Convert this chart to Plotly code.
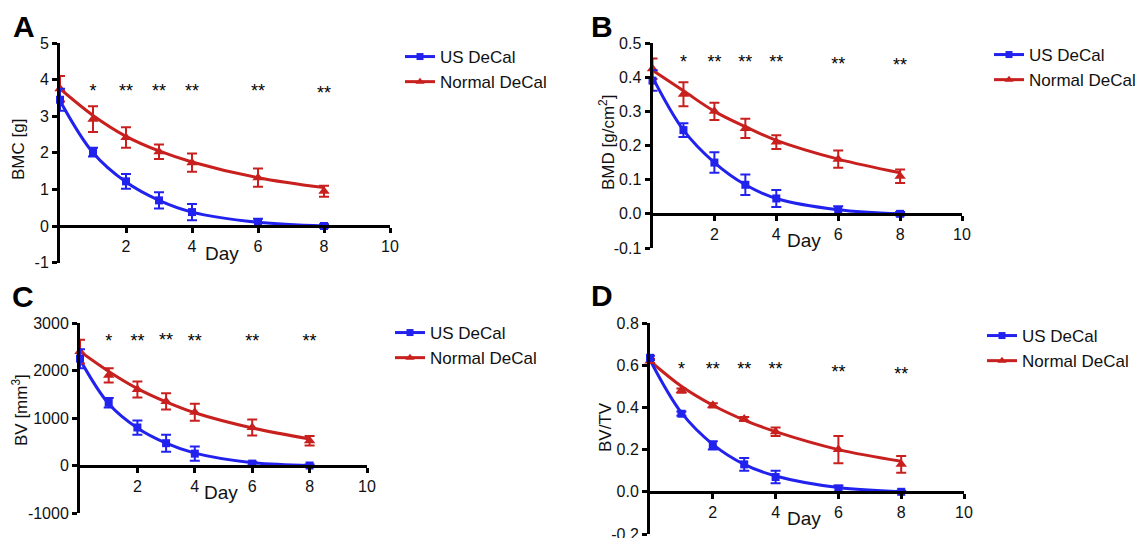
import plotly.graph_objects as go

# ---------------- data ----------------
days = [0, 1, 2, 3, 4, 6, 8]
star_days = [1, 2, 3, 4, 6, 8]
star_labels = ["*", "**", "**", "**", "**", "**"]

# Panel A: BMC [g]
A_us = [3.45, 2.02, 1.22, 0.70, 0.38, 0.10, 0.00]
A_us_err = [0.30, 0.12, 0.20, 0.22, 0.22, 0.10, 0.05]
A_us_fit = [3.42, 2.00, 1.20, 0.70, 0.38, 0.10, 0.00]
A_norm = [3.75, 2.92, 2.42, 2.03, 1.73, 1.32, 0.95]
A_norm_err = [0.35, 0.35, 0.28, 0.20, 0.25, 0.25, 0.15]
A_norm_fit = [3.75, 3.02, 2.45, 2.05, 1.75, 1.32, 1.05]
A_star_y = [3.66, 3.66, 3.66, 3.66, 3.64, 3.58]

# Panel B: BMD [g/cm2]
B_us = [0.39, 0.245, 0.15, 0.085, 0.045, 0.010, 0.000]
B_us_err = [0.030, 0.020, 0.030, 0.030, 0.025, 0.012, 0.005]
B_us_fit = [0.40, 0.245, 0.150, 0.085, 0.045, 0.012, 0.000]
B_norm = [0.425, 0.350, 0.300, 0.250, 0.210, 0.160, 0.110]
B_norm_err = [0.030, 0.035, 0.025, 0.028, 0.020, 0.025, 0.020]
B_norm_fit = [0.420, 0.360, 0.300, 0.255, 0.215, 0.160, 0.120]
B_star_y = [0.441, 0.441, 0.439, 0.441, 0.434, 0.432]

# Panel C: BV [mm3]
C_us = [2250, 1320, 800, 470, 250, 40, 0]
C_us_err = [200, 100, 150, 180, 150, 40, 20]
C_us_fit = [2230, 1300, 790, 470, 260, 60, 0]
C_norm = [2400, 1900, 1600, 1350, 1120, 800, 520]
C_norm_err = [250, 150, 170, 170, 180, 170, 100]
C_norm_fit = [2400, 1980, 1620, 1340, 1110, 790, 560]
C_star_y = [2600, 2600, 2610, 2600, 2580, 2580]

# Panel D: BV/TV
D_us = [0.635, 0.370, 0.220, 0.130, 0.070, 0.015, 0.000]
D_us_err = [0.010, 0.010, 0.020, 0.030, 0.030, 0.015, 0.005]
D_us_fit = [0.625, 0.375, 0.225, 0.130, 0.075, 0.020, 0.000]
D_norm = [0.620, 0.480, 0.410, 0.345, 0.285, 0.200, 0.130]
D_norm_err = [0.010, 0.010, 0.010, 0.010, 0.020, 0.065, 0.040]
D_norm_fit = [0.620, 0.500, 0.410, 0.340, 0.285, 0.200, 0.145]
D_star_y = [0.573, 0.573, 0.573, 0.573, 0.559, 0.550]

x_tickvals = [2, 4, 6, 8, 10]
x_ticktext = ["2", "4", "6", "8", "10"]
A_yticks = [-1, 0, 1, 2, 3, 4, 5]
A_ytext = ["-1", "0", "1", "2", "3", "4", "5"]
B_yticks = [-0.1, 0.0, 0.1, 0.2, 0.3, 0.4, 0.5]
B_ytext = ["-0.1", "0.0", "0.1", "0.2", "0.3", "0.4", "0.5"]
C_yticks = [-1000, 0, 1000, 2000, 3000]
C_ytext = ["-1000", "0", "1000", "2000", "3000"]
D_yticks = [-0.2, 0.0, 0.2, 0.4, 0.6, 0.8]
D_ytext = ["-0.2", "0.0", "0.2", "0.4", "0.6", "0.8"]

series_names = ["US DeCal", "Normal DeCal"]

# ---------------- style ----------------
BLUE = "#2222EE"
RED = "#C8201E"
FONT = "Liberation Sans, Arial, sans-serif"
W, H = 1140, 538

panels = [
    dict(key="", us=A_us, use=A_us_err, usf=A_us_fit, no=A_norm, noe=A_norm_err, nof=A_norm_fit,
         sy=A_star_y, yt=A_yticks, ytt=A_ytext, yr=[-1, 5], px=(60, 390), py=(43, 262.6),
         ytitle="BMC [g]", ytpos=(18, 150), letter="A", lpos=(24, 27), leg=(400, 51)),
    dict(key="2", us=B_us, use=B_us_err, usf=B_us_fit, no=B_norm, noe=B_norm_err, nof=B_norm_fit,
         sy=B_star_y, yt=B_yticks, ytt=B_ytext, yr=[-0.1, 0.5], px=(652.5, 962), py=(43, 248),
         ytitle="BMD [g/cm<sup>2</sup>]", ytpos=(607, 143), letter="B", lpos=(602, 26), leg=(989, 49)),
    dict(key="3", us=C_us, use=C_us_err, usf=C_us_fit, no=C_norm, noe=C_norm_err, nof=C_norm_fit,
         sy=C_star_y, yt=C_yticks, ytt=C_ytext, yr=[-1000, 3000], px=(80, 367), py=(323, 513),
         ytitle="BV [mm<sup>3</sup>]", ytpos=(20, 410), letter="C", lpos=(23, 296), leg=(390, 327)),
    dict(key="4", us=D_us, use=D_us_err, usf=D_us_fit, no=D_norm, noe=D_norm_err, nof=D_norm_fit,
         sy=D_star_y, yt=D_yticks, ytt=D_ytext, yr=[-0.2, 0.8], px=(650, 964), py=(323, 534),
         ytitle="BV/TV", ytpos=(606, 427), letter="D", lpos=(602, 295), leg=(982, 330)),
]

fig = go.Figure()
annotations = []
layout = {}

for i, p in enumerate(panels):
    k = p["key"]
    xa, ya = "x" + k, "y" + k
    legname = "legend" + k
    x0 = p["px"][0] / W
    x1 = p["px"][1] / W
    y_top = 1 - p["py"][0] / H
    y_bot = 1 - p["py"][1] / H
    ymin, ymax = p["yr"]
    zero_pos = y_bot + (0 - ymin) / (ymax - ymin) * (y_top - y_bot)

    # fit curves
    fig.add_trace(go.Scatter(x=days, y=p["nof"], mode="lines", line=dict(color=RED, width=3, shape="spline", smoothing=1.0),
                             xaxis=xa, yaxis=ya, showlegend=False, hoverinfo="skip", cliponaxis=False))
    fig.add_trace(go.Scatter(x=days, y=p["usf"], mode="lines", line=dict(color=BLUE, width=3, shape="spline", smoothing=1.0),
                             xaxis=xa, yaxis=ya, showlegend=False, hoverinfo="skip", cliponaxis=False))
    # data points
    fig.add_trace(go.Scatter(x=days, y=p["no"], mode="markers",
                             marker=dict(symbol="triangle-up", size=10, color=RED),
                             error_y=dict(type="data", array=p["noe"], color=RED, thickness=2, width=5),
                             xaxis=xa, yaxis=ya, showlegend=False, cliponaxis=False))
    fig.add_trace(go.Scatter(x=days, y=p["us"], mode="markers",
                             marker=dict(symbol="square", size=8, color=BLUE),
                             error_y=dict(type="data", array=p["use"], color=BLUE, thickness=2, width=5),
                             xaxis=xa, yaxis=ya, showlegend=False, cliponaxis=False))
    # legend entries
    fig.add_trace(go.Scatter(x=[None], y=[None], mode="lines+markers", name=series_names[0],
                             line=dict(color=BLUE, width=3), marker=dict(symbol="square", size=7, color=BLUE),
                             xaxis=xa, yaxis=ya, legend=legname))
    fig.add_trace(go.Scatter(x=[None], y=[None], mode="lines+markers", name=series_names[1],
                             line=dict(color=RED, width=3), marker=dict(symbol="triangle-up", size=8, color=RED),
                             xaxis=xa, yaxis=ya, legend=legname))
    # significance stars
    fig.add_trace(go.Scatter(x=star_days, y=p["sy"], mode="text", text=star_labels,
                             textfont=dict(family=FONT, size=18, color="#000"),
                             xaxis=xa, yaxis=ya, showlegend=False, hoverinfo="skip", cliponaxis=False))

    axis_common = dict(showgrid=False, zeroline=False, showline=True, linecolor="black", linewidth=3,
                       ticks="outside", tickcolor="black", tickwidth=3, ticklen=5, automargin=False,
                       ticklabeloverflow="allow",
                       tickfont=dict(family=FONT, size=16, color="#111"))
    layout["xaxis" + k] = dict(domain=[x0, x1], range=[0, 10], anchor="free", position=zero_pos,
                               tickvals=x_tickvals, ticktext=x_ticktext, **axis_common)
    layout["yaxis" + k] = dict(domain=[y_bot, y_top], range=[ymin, ymax], anchor=xa,
                               tickvals=p["yt"], ticktext=p["ytt"], **axis_common)
    layout[legname] = dict(x=p["leg"][0] / W, y=1 - (p["leg"][1] - 12) / H, xanchor="left", yanchor="top",
                           font=dict(family=FONT, size=17, color="#111"), bgcolor="rgba(0,0,0,0)",
                           tracegroupgap=0, itemwidth=30)

    # panel letter
    annotations.append(dict(text="<b>" + p["letter"] + "</b>", x=p["lpos"][0] / W, y=1 - p["lpos"][1] / H,
                            xref="paper", yref="paper", showarrow=False, xanchor="center", yanchor="middle",
                            font=dict(family=FONT, size=30, color="black")))
    # y title
    annotations.append(dict(text=p["ytitle"], x=p["ytpos"][0] / W, y=1 - p["ytpos"][1] / H,
                            xref="paper", yref="paper", showarrow=False, textangle=-90,
                            xanchor="center", yanchor="middle",
                            font=dict(family=FONT, size=17, color="#111")))
    # x title "Day"
    day_y_px = p["py"][0] + (ymax - 0) / (ymax - ymin) * (p["py"][1] - p["py"][0]) + 27
    annotations.append(dict(text="Day", x=(x0 + x1) / 2 - 3 / W, y=1 - day_y_px / H,
                            xref="paper", yref="paper", showarrow=False, xanchor="center", yanchor="middle",
                            font=dict(family=FONT, size=19, color="#111")))

fig.update_layout(width=W, height=H, margin=dict(l=0, r=0, t=0, b=0, autoexpand=False),
                  paper_bgcolor="white", plot_bgcolor="white",
                  annotations=annotations, **layout)

fig.write_html("out.html", config={"displayModeBar": False},
               post_script="document.body.style.margin='0';document.body.style.padding='0';")
